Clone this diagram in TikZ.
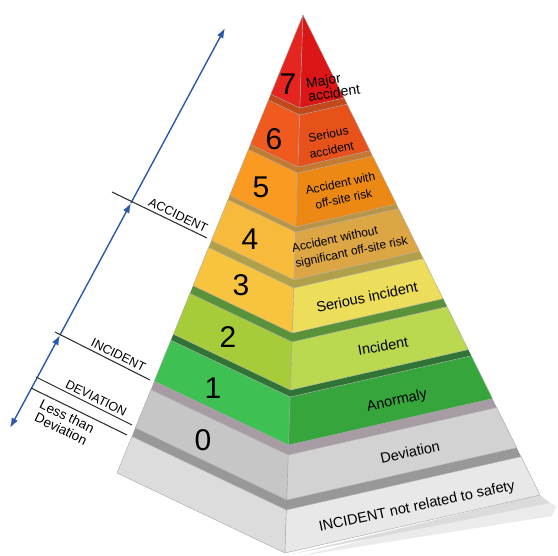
\documentclass[tikz,border=0pt]{standalone}
\usepackage{fontspec}
\setmainfont{Liberation Sans}
\usetikzlibrary{arrows.meta}
\definecolor{axisblue}{rgb}{0.17, 0.35, 0.66}
\definecolor{redL}{HTML}{E52520}
\definecolor{redR}{HTML}{DC1616}
\definecolor{sixL}{HTML}{F05A1E}
\definecolor{sixR}{HTML}{E6521A}
\definecolor{sixS}{HTML}{C24A1A}
\definecolor{fiveL}{HTML}{FA9A20}
\definecolor{fiveR}{HTML}{EC8914}
\definecolor{fiveS}{HTML}{C47A30}
\definecolor{fourL}{HTML}{F8BA3A}
\definecolor{fourR}{HTML}{DCA644}
\definecolor{fourS}{HTML}{B89446}
\definecolor{threeL}{HTML}{F8C440}
\definecolor{threeR}{HTML}{ECDE5A}
\definecolor{threeS}{HTML}{B0A04A}
\definecolor{twoL}{HTML}{A6CC3A}
\definecolor{twoR}{HTML}{BAD850}
\definecolor{twoS}{HTML}{5A923A}
\definecolor{oneL}{HTML}{3EC052}
\definecolor{oneR}{HTML}{36A63C}
\definecolor{oneS}{HTML}{2F7435}
\definecolor{zeroL}{HTML}{C6C6C6}
\definecolor{zeroR}{HTML}{D2D2D2}
\definecolor{zeroS}{HTML}{A89CA4}
\definecolor{baseL}{HTML}{DCDCDC}
\definecolor{baseR}{HTML}{E8E8E8}
\definecolor{baseS}{HTML}{989898}

\begin{document}
\begin{tikzpicture}[x=1pt, y=-1pt,
    face/.style={draw=black!35, line width=0.4pt, line join=round},
    num/.style={font=\fontsize{30}{30}\selectfont},
    lbl/.style={font=\fontsize{12}{16}\selectfont, align=center, rotate=12, inner sep=1pt},
    biglbl/.style={font=\fontsize{14.5}{16}\selectfont, rotate=12, inner sep=1pt},
    tick/.style={draw=black!80, line width=1.1pt},
    axis/.style={draw=axisblue, line width=1.4pt, -{Latex[length=10pt,width=7pt]}},
    side/.style={font=\fontsize{12.5}{14}\selectfont, sloped, inner sep=1pt}
  ]
      \useasboundingbox (0,0) rectangle (558,556);

      % shadow under the base
      \fill[black!8] (300,556) -- (540,497) -- (556,506) -- (552,516) -- cycle;
      \fill[black!14] (292,554) -- (540,495) -- (550,503) -- cycle;

      % base slab
      \fill[baseS] (135.3,427.9) -- (286.8,500) -- (516.7,447.7) -- (521.1,456.6) -- (286.4,510) -- (131.9,436.4) -- cycle;
      \filldraw[face, fill=baseL] (131.9,436.4) -- (286.4,510) -- (285,553) -- (117,473) -- cycle;
      \filldraw[face, fill=baseR] (286.4,510) -- (521.1,456.6) -- (540,495) -- (285,553) -- cycle;

      % 0
      \fill[zeroS] (154.3,381.1) -- (288.6,445) -- (492.4,398.6) -- (496.8,407.6) -- (288.3,455) -- (150.9,389.6) -- cycle;
      \filldraw[face, fill=zeroL] (150.9,389.6) -- (288.3,455) -- (286.8,500) -- (135.3,427.9) -- cycle;
      \filldraw[face, fill=zeroR] (288.3,455) -- (496.8,407.6) -- (516.7,447.7) -- (286.8,500) -- cycle;

      % 1
      \fill[oneS] (173.4,334.2) -- (290.5,390) -- (468.2,349.6) -- (471.3,355.8) -- (290.2,397) -- (170.9,340.2) -- cycle;
      \filldraw[face, fill=oneL] (170.9,340.2) -- (290.2,397) -- (288.6,445) -- (154.3,381.1) -- cycle;
      \filldraw[face, fill=oneR] (290.2,397) -- (471.3,355.8) -- (492.4,398.6) -- (288.6,445) -- cycle;

      % 2
      \fill[twoS] (193.1,285.7) -- (292.4,333) -- (443.1,298.7) -- (447.1,306.7) -- (292.1,342) -- (189.9,293.4) -- cycle;
      \filldraw[face, fill=twoL] (189.9,293.4) -- (292.1,342) -- (290.5,390) -- (173.4,334.2) -- cycle;
      \filldraw[face, fill=twoR] (292.1,342) -- (447.1,306.7) -- (468.2,349.6) -- (290.5,390) -- cycle;

      % 3
      \fill[threeS] (211.4,240.6) -- (294.1,280) -- (419.7,251.4) -- (423.3,258.6) -- (293.9,288) -- (208.6,247.4) -- cycle;
      \filldraw[face, fill=threeL] (208.6,247.4) -- (293.9,288) -- (292.4,333) -- (193.1,285.7) -- cycle;
      \filldraw[face, fill=threeR] (293.9,288) -- (423.3,258.6) -- (443.1,298.7) -- (292.4,333) -- cycle;

      % 4
      \fill[fourS] (229.7,195.5) -- (295.9,227) -- (396.4,204.1) -- (398.6,208.6) -- (295.7,232) -- (228.0,199.7) -- cycle;
      \filldraw[face, fill=fourL] (228.0,199.7) -- (295.7,232) -- (294.1,280) -- (211.4,240.6) -- cycle;
      \filldraw[face, fill=fourR] (295.7,232) -- (398.6,208.6) -- (419.7,251.4) -- (294.1,280) -- cycle;

      % 5
      \fill[fiveS] (250.4,144.4) -- (297.9,167) -- (370.0,150.6) -- (372.6,156.0) -- (297.7,173) -- (248.4,149.5) -- cycle;
      \filldraw[face, fill=fiveL] (248.4,149.5) -- (297.7,173) -- (295.9,227) -- (229.7,195.5) -- cycle;
      \filldraw[face, fill=fiveR] (297.7,173) -- (372.6,156.0) -- (396.4,204.1) -- (295.9,227) -- cycle;

      % 6
      \fill[sixS] (270.8,94.2) -- (299.9,108) -- (344.0,98.0) -- (347.1,104.2) -- (299.7,115) -- (268.4,100.1) -- cycle;
      \filldraw[face, fill=sixL] (268.4,100.1) -- (299.7,115) -- (297.9,167) -- (250.4,144.4) -- cycle;
      \filldraw[face, fill=sixR] (299.7,115) -- (347.1,104.2) -- (370.0,150.6) -- (297.9,167) -- cycle;

      % 7
      \filldraw[face, fill=redL] (303,15) -- (299.9,108) -- (270.8,94.2) -- cycle;
      \filldraw[face, fill=redR] (303,15) -- (344.0,98.0) -- (299.9,108) -- cycle;

      \node[num] (n7) at (288,84) {7};
      \node[num] (n6) at (274,139) {6};
      \node[num] (n5) at (261,187) {5};
      \node[num] (n4) at (250,239) {4};
      \node[num] (n3) at (241,285) {3};
      \node[num] (n2) at (228,337) {2};
      \node[num] (n1) at (213,388) {1};
      \node[num] (n0) at (203,440) {0};

      \node[lbl, font=\fontsize{14}{13}\selectfont, rotate=-3, align=left] (t7) at (333,86) {Major\\accident};
      \node[lbl] (t6) at (330,142) {Serious\\accident};
      \node[lbl] (t5) at (342,191) {Accident with\\off-site risk};
      \node[lbl, align=left] (t4) at (350,245) {Accident without\\significant off-site risk};
      \node[biglbl] (t3) at (367,297) {Serious incident};
      \node[biglbl, rotate=-2] (t2) at (383,346) {Incident};
      \node[biglbl] (t1) at (397,401) {Anormaly};
      \node[biglbl] (t0) at (410,452) {Deviation};
      \node[biglbl] (tb) at (417,507) {INCIDENT not related to safety};

      \coordinate (bot) at (10,428);
      \coordinate (dev) at (37,378);
      \coordinate (inc) at (60,335);
      \coordinate (acc) at (131,203);
      \coordinate (top) at (225,28);

      \draw[axis] (dev) -- (bot);
      \draw[axis] (dev) -- (inc);
      \draw[axis] (inc) -- (acc);
      \draw[axis] (acc) -- (top);

      \coordinate (acc1) at (112,192);
      \coordinate (acc2) at (207,238);
      \coordinate (inc1) at (55,332);
      \coordinate (inc2) at (150,380);
      \coordinate (dev1) at (36,377);
      \coordinate (dev2) at (132,425);
      \coordinate (low1) at (31,388);
      \coordinate (low2) at (127,435);

      \draw[tick] (acc1) -- (acc2) node[side, pos=0.66, above=2pt] (lacc) {ACCIDENT};
      \draw[tick] (inc1) -- (inc2) node[side, pos=0.63, above=2pt] (linc) {INCIDENT};
      \draw[tick] (dev1) -- (dev2) node[side, pos=0.59, above=2pt] (ldev) {DEVIATION};
      \draw[tick] (low1) -- (low2) node[side, font=\fontsize{13.5}{14}\selectfont, pos=0.42, below=3pt, align=center] (llow) {Less than\\Deviation};

\end{tikzpicture}
\end{document}
